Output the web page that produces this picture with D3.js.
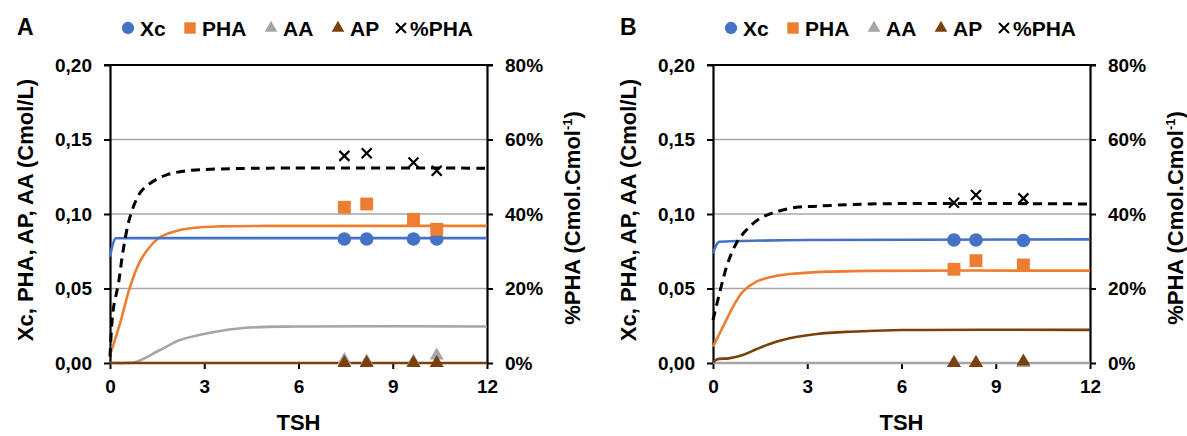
<!DOCTYPE html>
<html>
<head>
<meta charset="utf-8">
<script src="https://cdn.jsdelivr.net/npm/d3@7"></script>
<style>
  body { margin: 0; background: #fff; }
  text { font-family: "Liberation Sans", Arial, sans-serif; }
</style>
</head>
<body>
<svg id="chart" width="1187" height="436"></svg>
<script>
// axis ticks
const tshTicks = [0, 3, 6, 9, 12];
const concTicks = [0, 0.05, 0.10, 0.15, 0.20];
const pctTicks = [0, 0.2, 0.4, 0.6, 0.8];
const legendLabels = ["Xc", "PHA", "AA", "AP", "%PHA"];

// panel A - measured points
const aTime = [7.46, 8.17, 9.66, 10.4];
const aXc = [0.0832, 0.0832, 0.0832, 0.0832];
const aPHA = [0.1045, 0.1067, 0.0964, 0.0897];
const aAA = [0.002, 0.001, 0.001, 0.005];
const aAP = [0, 0, 0, 0];
const aPct = [0.556, 0.563, 0.538, 0.516];

// panel A - model curves
const aXcFitT = [0, 0.08, 0.19, 1, 12];
const aXcFit = [0.0713, 0.079, 0.0837, 0.0838, 0.0838];
const aPHAFitT = [0, 0.32, 0.64, 0.95, 1.27, 1.59, 2.23, 2.87, 3.5, 5, 12];
const aPHAFit = [0.0054, 0.0266, 0.0512, 0.068, 0.078, 0.0844, 0.0893, 0.0911, 0.0917, 0.092, 0.092];
const aAAFitT = [0, 0.5, 0.85, 1.59, 2.23, 3.18, 4.24, 6, 12];
const aAAFit = [0, 0, 0.0009, 0.0087, 0.0154, 0.0203, 0.0235, 0.0245, 0.0245];
const aAPFitT = [0, 12];
const aAPFit = [0, 0];
const aPctFitT = [0, 0.1, 0.27, 0.42, 0.64, 0.95, 1.27, 1.8, 2.44, 3.18, 5, 12];
const aPctFit = [0.017, 0.142, 0.214, 0.303, 0.393, 0.456, 0.482, 0.505, 0.516, 0.52, 0.523, 0.523];

// panel B - measured points
const bTime = [7.67, 8.37, 9.88];
const bXc = [0.0826, 0.0826, 0.0822];
const bPHA = [0.0629, 0.0687, 0.0658];
const bAA = [0, 0, 0];
const bAP = [0, 0, 0.001];
const bPct = [0.43, 0.451, 0.442];

// panel B - model curves
const bXcFitT = [0, 0.1, 0.21, 3, 12];
const bXcFit = [0.0736, 0.079, 0.0814, 0.0825, 0.083];
const bPHAFitT = [0, 0.32, 0.64, 0.95, 1.38, 1.8, 2.44, 3.3, 5, 12];
const bPHAFit = [0.011, 0.0244, 0.0378, 0.0479, 0.0546, 0.0575, 0.0597, 0.061, 0.0618, 0.062];
const bAAFitT = [0, 12];
const bAAFit = [0, 0];
const bAPFitT = [0, 0.13, 0.5, 0.95, 1.38, 1.8, 2.44, 3.3, 4.36, 6, 12];
const bAPFit = [0.0002, 0.0025, 0.0031, 0.0054, 0.0092, 0.0128, 0.0166, 0.0195, 0.021, 0.0221, 0.0222];
const bPctFitT = [0, 0.26, 0.47, 0.74, 1.06, 1.49, 2.02, 2.65, 3.29, 5, 12];
const bPctFit = [0.115, 0.205, 0.268, 0.321, 0.357, 0.388, 0.406, 0.418, 0.421, 0.427, 0.427];

const colors = { xc: "#4472c4", pha: "#ed7d31", aa: "#a5a5a5", ap: "#7b3f0c", pct: "#000" };
const font = "Liberation Sans, Arial, sans-serif";
const svg = d3.select("#chart");

const zip = (t, v) => t.map((d, i) => ({ t: d, v: v[i] }));
const comma = d3.format(".2f");

function drawPanel(ox, label, d) {
  const g = svg.append("g").attr("transform", `translate(${ox},0)`);
  const x = d3.scaleLinear().domain([0, 12]).range([110, 487]);
  const y = d3.scaleLinear().domain([0, 0.2]).range([363, 65]);
  const y2 = d3.scaleLinear().domain([0, 0.8]).range([363, 65]);

  // gridlines
  g.append("g").selectAll("line").data(concTicks).enter().append("line")
    .attr("x1", x(0)).attr("x2", x(12))
    .attr("y1", v => y(v)).attr("y2", v => y(v))
    .attr("stroke", "#a6a6a6").attr("stroke-width", 1.6);
  g.append("line").attr("x1", x(0) - 6).attr("x2", x(12) + 6)
    .attr("y1", y(0.2)).attr("y2", y(0.2)).attr("stroke", "#000").attr("stroke-width", 2.2);

  // axes
  const left = g.append("g").attr("transform", `translate(${x(0)},0)`)
    .call(d3.axisLeft(y).tickValues(concTicks).tickSize(6).tickSizeOuter(0).tickPadding(12)
      .tickFormat(v => comma(v).replace(".", ",")));
  const right = g.append("g").attr("transform", `translate(${x(12)},0)`)
    .call(d3.axisRight(y2).tickValues(pctTicks).tickSize(6).tickSizeOuter(0).tickPadding(12)
      .tickFormat(d3.format(".0%")));
  const bottom = g.append("g").attr("transform", `translate(0,${y(0)})`)
    .call(d3.axisBottom(x).tickValues(tshTicks).tickSize(6).tickSizeOuter(0).tickPadding(11));
  bottom.select(".domain").remove();
  [left, right, bottom].forEach(a => {
    a.selectAll(".domain").attr("stroke", "#000").attr("stroke-width", 2.2);
    a.selectAll(".tick line").attr("stroke", "#000").attr("stroke-width", 2);
    a.selectAll(".tick text").attr("fill", "#000").style("font", `bold 19px ${font}`);
  });

  // model curves
  const smooth = d3.curveCatmullRom.alpha(0.5);
  const line = (sc, cv) => d3.line().x(p => x(p.t)).y(p => sc(p.v)).curve(cv);
  const curves = [
    { data: zip(d.aaT, d.aaF), c: colors.aa, sc: y },
    { data: zip(d.apT, d.apF), c: colors.ap, sc: y },
    { data: zip(d.phaT, d.phaF), c: colors.pha, sc: y },
    { data: zip(d.xcT, d.xcF), c: colors.xc, sc: y, cv: d3.curveMonotoneX },
    { data: zip(d.pctT, d.pctF), c: colors.pct, sc: y2, dash: "9,6", w: 3 }
  ];
  curves.forEach(c => {
    g.append("path").attr("d", line(c.sc, c.cv || smooth)(c.data)).attr("fill", "none")
      .attr("stroke", c.c).attr("stroke-width", c.w || 2.6)
      .attr("stroke-dasharray", c.dash || null);
  });

  // markers
  const sym = (type, size) => d3.symbol().type(type).size(size)();
  const pts = [
    { v: d.xc, c: colors.xc, p: sym(d3.symbolCircle, 145) },
    { v: d.pha, c: colors.pha, p: sym(d3.symbolSquare, 165) },
    { v: d.aa, c: colors.aa, p: sym(d3.symbolTriangle, 85) },
    { v: d.ap, c: colors.ap, p: sym(d3.symbolTriangle, 85) }
  ];
  pts.forEach(s => {
    g.append("g").selectAll("path").data(zip(d.t, s.v)).enter()
      .append("path").attr("d", s.p).attr("fill", s.c)
      .attr("transform", p => `translate(${x(p.t)},${y(p.v)})`);
  });
  g.append("g").selectAll("path").data(zip(d.t, d.pct)).enter().append("path")
    .attr("d", "M-5,-5L5,5M-5,5L5,-5").attr("stroke", "#000").attr("stroke-width", 2.2)
    .attr("fill", "none")
    .attr("transform", p => `translate(${x(p.t)},${y2(p.v)})`);

  // axis titles
  g.append("text").attr("transform", `translate(33,210) rotate(-90)`)
    .attr("text-anchor", "middle").style("font", `bold 22px ${font}`)
    .text("Xc, PHA, AP, AA (Cmol/L)");
  const rt = g.append("text").attr("transform", `translate(580,218) rotate(-90)`)
    .attr("text-anchor", "middle").style("font", `bold 22px ${font}`);
  rt.append("tspan").text("%PHA  (Cmol.Cmol");
  rt.append("tspan").attr("dy", -8).style("font-size", "13px").text("-1");
  rt.append("tspan").attr("dy", 8).text(")");
  g.append("text").attr("x", (x(0) + x(12)) / 2).attr("y", 430)
    .attr("text-anchor", "middle").style("font", `bold 22px ${font}`).text("TSH");

  // panel label
  g.append("text").attr("x", 17).attr("y", 35).style("font", `bold 23px ${font}`).text(label);

  // legend
  const lx = [128, 190, 271, 338, 401];
  const lsym = [
    { p: sym(d3.symbolCircle, 120), c: colors.xc },
    { p: sym(d3.symbolSquare, 130), c: colors.pha },
    { p: sym(d3.symbolTriangle, 70), c: colors.aa },
    { p: sym(d3.symbolTriangle, 70), c: colors.ap },
    { p: "M-5,-5L5,5M-5,5L5,-5", c: "#000", stroke: true }
  ];
  const leg = g.append("g");
  legendLabels.forEach((name, i) => {
    const it = leg.append("g").attr("transform", `translate(${lx[i]},28)`);
    const m = it.append("path").attr("d", lsym[i].p);
    if (lsym[i].stroke) m.attr("fill", "none").attr("stroke", "#000").attr("stroke-width", 2);
    else m.attr("fill", lsym[i].c);
    it.append("text").attr("x", i === 4 ? 9 : 12).attr("y", 7.5)
      .style("font", `bold 21px ${font}`).text(name);
  });
}

drawPanel(0, "A", {
  t: aTime, xc: aXc, pha: aPHA, aa: aAA, ap: aAP, pct: aPct,
  xcT: aXcFitT, xcF: aXcFit, phaT: aPHAFitT, phaF: aPHAFit,
  aaT: aAAFitT, aaF: aAAFit, apT: aAPFitT, apF: aAPFit, pctT: aPctFitT, pctF: aPctFit
});
drawPanel(603, "B", {
  t: bTime, xc: bXc, pha: bPHA, aa: bAA, ap: bAP, pct: bPct,
  xcT: bXcFitT, xcF: bXcFit, phaT: bPHAFitT, phaF: bPHAFit,
  aaT: bAAFitT, aaF: bAAFit, apT: bAPFitT, apF: bAPFit, pctT: bPctFitT, pctF: bPctFit
});
</script>
</body>
</html>
